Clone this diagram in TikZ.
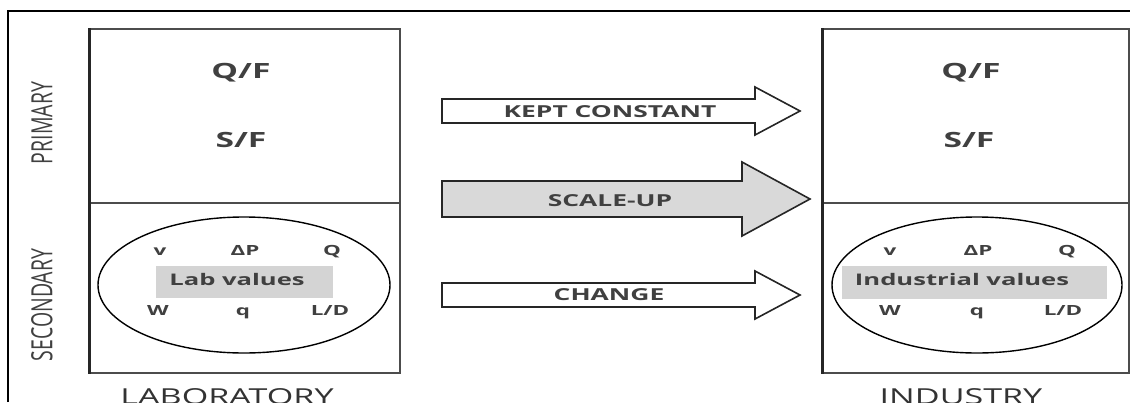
\documentclass[tikz,border=0pt]{standalone}
\usepackage{fontspec}
\setmainfont{Open Sans}
\usepackage{tikz}
\usetikzlibrary{shapes.geometric}

\tikzset{
  boxline/.style={line width=1.3pt, draw=black!70},
  txt/.style={inner sep=0pt, anchor=base, text=black!75, xscale=1.6},
  ratio/.style={txt, font=\fontsize{21}{24}\selectfont\bfseries},
  var/.style={txt, font=\fontsize{14}{16}\selectfont\bfseries},
  vals/.style={txt, font=\fontsize{16}{19}\selectfont\bfseries},
  side/.style={inner sep=0pt, text=black!75, xscale=1.5, rotate=90, font=\fontsize{19.5}{22}\selectfont},
  place/.style={inner sep=0pt, anchor=north, text=black!80, xscale=1.55, font=\fontsize{22}{25}\selectfont},
  arrowlbl/.style={txt, font=\fontsize{16.5}{20}\selectfont\bfseries},
  blockarrow/.style={line width=1.6pt, draw=black!85, line join=miter},
}

\begin{document}
\begin{tikzpicture}[x=1pt, y=-1pt]
    \useasboundingbox (0,0) rectangle (1130,402);
    % outer frame
    \draw[line width=2pt] (7.5,402) -- (7.5,11) -- (1131,11);

    % laboratory box
    \draw[boxline] (89,29) rectangle (400,373);
    \draw[boxline] (89,203) -- (400,203);
    \draw[line width=3pt, black!85] (89,28) -- (89,374);
    % industry box
    \draw[boxline] (822,29) rectangle (1129,373);
    \draw[boxline] (822,203) -- (1129,203);
    \draw[line width=3pt, black!85] (822,28) -- (822,374);

    % side labels
    \node[side] (primary) at (42,123) {PRIMARY};
    \node[side] (secondary) at (42,305) {SECONDARY};

    % primary numbers
    \node[ratio] (labQF) at (241,78) {Q/F};
    \node[ratio] (labSF) at (241,147) {S/F};
    \node[ratio] (indQF) at (971,78) {Q/F};
    \node[ratio] (indSF) at (969,147) {S/F};

    % secondary variables, laboratory
    \node[draw=black, line width=1.4pt, ellipse, minimum width=292pt, minimum height=136pt] (labell) at (244,285) {};
    \node[fill=black!17, minimum width=177pt, minimum height=32pt, inner sep=0pt] (labbar) at (244.5,282) {};
    \node[vals] (labval) at (237,285) {Lab values};
    \node[var] (labv) at (160,255) {v};
    \node[var] (labdP) at (245,255) {ΔP};
    \node[var] (labQ) at (332,255) {Q};
    \node[var] (labW) at (158,315) {W};
    \node[var] (labq) at (243,315) {q};
    \node[var] (labLD) at (330,315) {L/D};

    % secondary variables, industry
    \node[draw=black, line width=1.4pt, ellipse, minimum width=290pt, minimum height=136pt] (indell) at (977,285) {};
    \node[fill=black!17, minimum width=265pt, minimum height=33pt, inner sep=0pt] (indbar) at (974.5,282.5) {};
    \node[vals] (indval) at (962,285) {Industrial values};
    \node[var] (indv) at (890,255) {v};
    \node[var] (inddP) at (978,255) {ΔP};
    \node[var] (indQ) at (1067,255) {Q};
    \node[var] (indW) at (890,315) {W};
    \node[var] (indq) at (977,315) {q};
    \node[var] (indLD) at (1063,315) {L/D};

    % block arrows
    \draw[blockarrow, fill=white] (442,99) -- (755,99) -- (755,87) -- (800,111)
        -- (755,135) -- (755,123) -- (442,123) -- cycle;
    \draw[blockarrow, fill=black!15] (442,181) -- (742,181) -- (742,162) -- (810,199)
        -- (742,236) -- (742,217) -- (442,217) -- cycle;
    \draw[blockarrow, fill=white] (442,283) -- (755,283) -- (755,271) -- (800,295)
        -- (755,319) -- (755,307) -- (442,307) -- cycle;
    \node[arrowlbl] (kept) at (610,117) {KEPT CONSTANT};
    \node[arrowlbl] (scaleup) at (610,206) {SCALE-UP};
    \node[arrowlbl] (change) at (609,300) {CHANGE};

    % bottom labels
    \node[place] (lab) at (227,388) {LABORATORY};
    \node[place] (ind) at (961,388) {INDUSTRY};
\end{tikzpicture}
\end{document}
